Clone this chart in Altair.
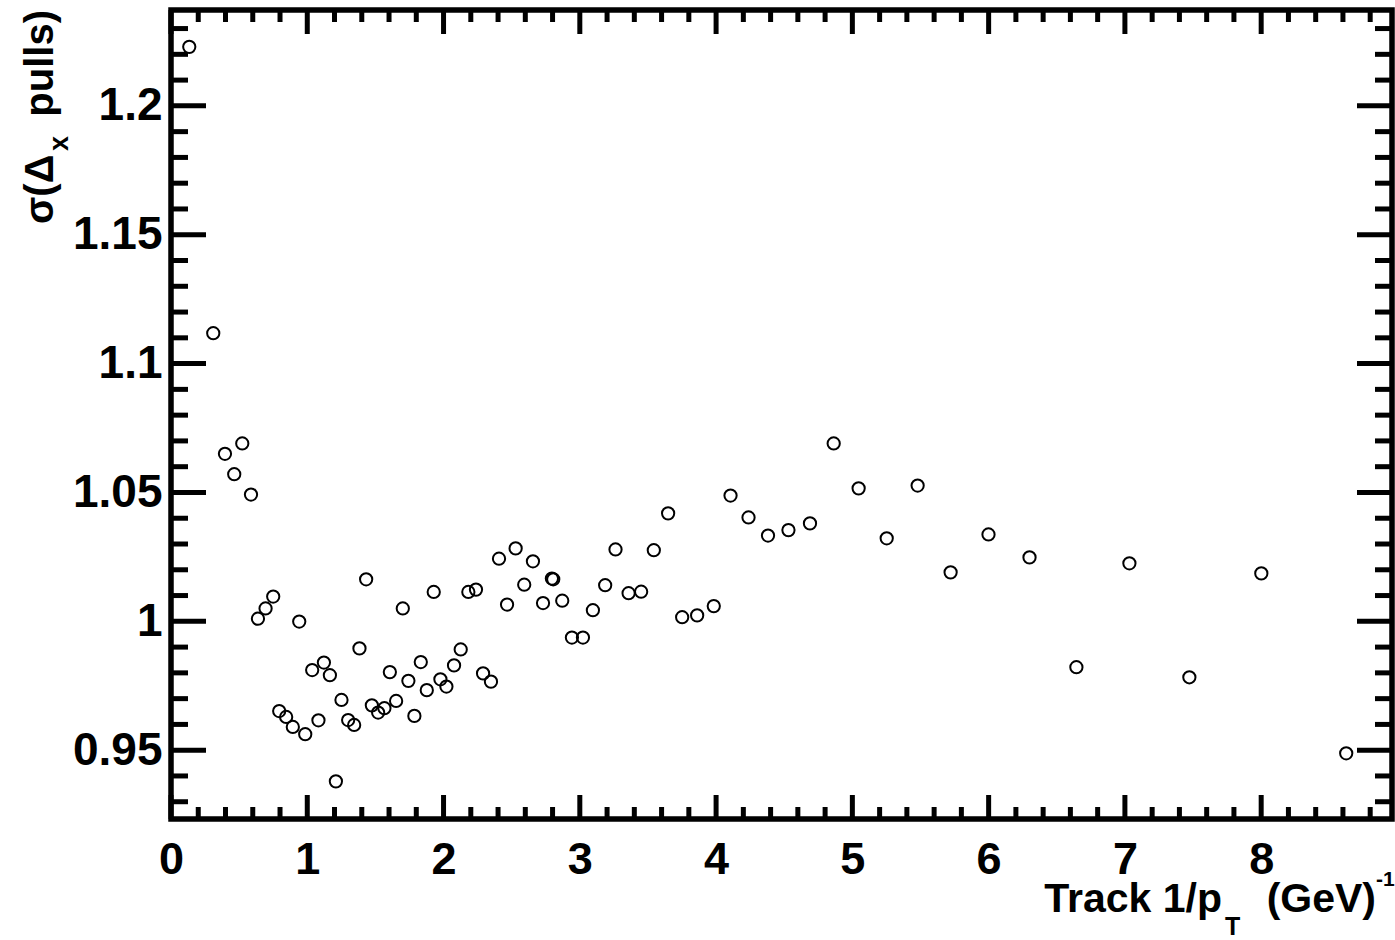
import altair as alt
import pandas as pd

# ---- data ----
inv_pt = [0.134, 0.310, 0.396, 0.464, 0.523, 0.587, 0.638, 0.694, 0.750, 0.794,
          0.845, 0.894, 0.941, 0.985, 1.036, 1.082, 1.122, 1.166, 1.210, 1.251,
          1.300, 1.344, 1.383, 1.432, 1.474, 1.520, 1.566, 1.606, 1.652, 1.701,
          1.742, 1.786, 1.833, 1.877, 1.928, 1.977, 2.021, 2.077, 2.126, 2.182,
          2.238, 2.290, 2.348, 2.407, 2.466, 2.529, 2.592, 2.656, 2.730, 2.795,
          2.805, 2.871, 2.942, 3.023, 3.096, 3.186, 3.262, 3.358, 3.450, 3.543,
          3.648, 3.751, 3.861, 3.983, 4.106, 4.238, 4.381, 4.531, 4.689, 4.863,
          5.046, 5.252, 5.479, 5.721, 5.999, 6.300, 6.644, 7.033, 7.473, 8.001,
          8.624]
sigma = [1.2229, 1.1118, 1.0650, 1.0571, 1.0690, 1.0492, 1.0010, 1.0050, 1.0096, 0.9652,
         0.9629, 0.9590, 0.9999, 0.9562, 0.9811, 0.9616, 0.9840, 0.9791, 0.9379, 0.9695,
         0.9617, 0.9598, 0.9895, 1.0163, 0.9674, 0.9646, 0.9663, 0.9803, 0.9691, 1.0050,
         0.9769, 0.9633, 0.9842, 0.9733, 1.0114, 0.9775, 0.9747, 0.9829, 0.9891, 1.0114,
         1.0123, 0.9798, 0.9766, 1.0243, 1.0065, 1.0283, 1.0142, 1.0233, 1.0071, 1.0166,
         1.0163, 1.0080, 0.9937, 0.9937, 1.0043, 1.0140, 1.0279, 1.0109, 1.0115, 1.0276,
         1.0419, 1.0016, 1.0023, 1.0059, 1.0488, 1.0403, 1.0333, 1.0354, 1.0380, 1.0690,
         1.0516, 1.0322, 1.0527, 1.0190, 1.0337, 1.0248, 0.9822, 1.0225, 0.9783, 1.0186,
         0.9488]

x_major = [0, 1, 2, 3, 4, 5, 6, 7, 8]
x_minor = [0.2, 0.4, 0.6, 0.8, 1.2, 1.4, 1.6, 1.8, 2.2, 2.4, 2.6, 2.8, 3.2, 3.4, 3.6, 3.8,
           4.2, 4.4, 4.6, 4.8, 5.2, 5.4, 5.6, 5.8, 6.2, 6.4, 6.6, 6.8, 7.2, 7.4, 7.6, 7.8,
           8.2, 8.4, 8.6, 8.8]
y_major = [0.95, 1.0, 1.05, 1.1, 1.15, 1.2]
y_minor = [0.93, 0.94, 0.96, 0.97, 0.98, 0.99, 1.01, 1.02, 1.03, 1.04, 1.06, 1.07, 1.08,
           1.09, 1.11, 1.12, 1.13, 1.14, 1.16, 1.17, 1.18, 1.19, 1.21, 1.22, 1.23]

X_DOMAIN = [0, 8.96]
Y_DOMAIN = [0.9233, 1.2372]

W, H = 1221, 809
FONT = "Liberation Sans"

df = pd.DataFrame({"x": inv_pt, "y": sigma})
xs = alt.Scale(domain=X_DOMAIN, nice=False, zero=False)
ys = alt.Scale(domain=Y_DOMAIN, nice=False, zero=False)

points = alt.Chart(df).mark_point(
    shape="circle", filled=False, color="black", size=150, strokeWidth=2, opacity=1
).encode(
    x=alt.X("x:Q", scale=xs, axis=alt.Axis(
        values=x_major, ticks=False, domain=False, grid=False, title=None,
        labelFont=FONT, labelFontWeight="bold", labelFontSize=45, labelColor="black",
        labelPadding=18, labelFlush=False, format="d")),
    y=alt.Y("y:Q", scale=ys, axis=alt.Axis(
        values=y_major, ticks=False, domain=False, grid=False, title=None,
        labelFont=FONT, labelFontWeight="bold", labelFontSize=46, labelColor="black",
        labelPadding=9, labelFlush=False, format=".3~g")),
)

def xticks(vals, length):
    d = pd.DataFrame({"x": vals})
    base = alt.Chart(d).mark_rule(color="black", strokeWidth=5)
    bot = base.encode(x=alt.X("x:Q", scale=xs), y=alt.value(H), y2=alt.value(H - length))
    top = base.encode(x=alt.X("x:Q", scale=xs), y=alt.value(0), y2=alt.value(length))
    return [bot, top]

def yticks(vals, length):
    d = pd.DataFrame({"y": vals})
    base = alt.Chart(d).mark_rule(color="black", strokeWidth=5)
    left = base.encode(y=alt.Y("y:Q", scale=ys), x=alt.value(0), x2=alt.value(length))
    right = base.encode(y=alt.Y("y:Q", scale=ys), x=alt.value(W), x2=alt.value(W - length))
    return [left, right]

def label(text, x, y, size, align="left", angle=0, baseline="alphabetic"):
    return alt.Chart(pd.DataFrame({"t": [text]})).mark_text(
        font=FONT, fontWeight="bold", fontSize=size, color="black",
        align=align, baseline=baseline, angle=angle
    ).encode(text="t:N", x=alt.value(x), y=alt.value(y))

titles = [
    # y title: sigma(Delta_x pulls), rotated
    label("σ(Δ", -118, 214, 40, align="left", angle=270),
    label("x", -103, 141, 27, align="left", angle=270),
    label("pulls)", -118, 0, 40, align="right", angle=270),
    # x title: Track 1/p_T (GeV)^-1
    label("Track 1/p", 1051, 902, 41, align="right"),
    label("T", 1054, 925, 25, align="left"),
    label("(GeV)", 1205, 902, 41, align="right"),
    label("-1", 1205, 876, 21, align="left"),
]

layers = [points] + xticks(x_major, 24) + xticks(x_minor, 12) + yticks(y_major, 35) + yticks(y_minor, 17) + titles

chart = alt.layer(*layers).properties(
    width=W, height=H,
    autosize=alt.AutoSizeParams(type="none"),
    padding={"left": 171, "top": 10, "right": 3, "bottom": 121},
    background="white",
).configure_view(stroke="black", strokeWidth=5.5)

chart.save("out.html", embed_options={"renderer": "svg", "actions": False})
